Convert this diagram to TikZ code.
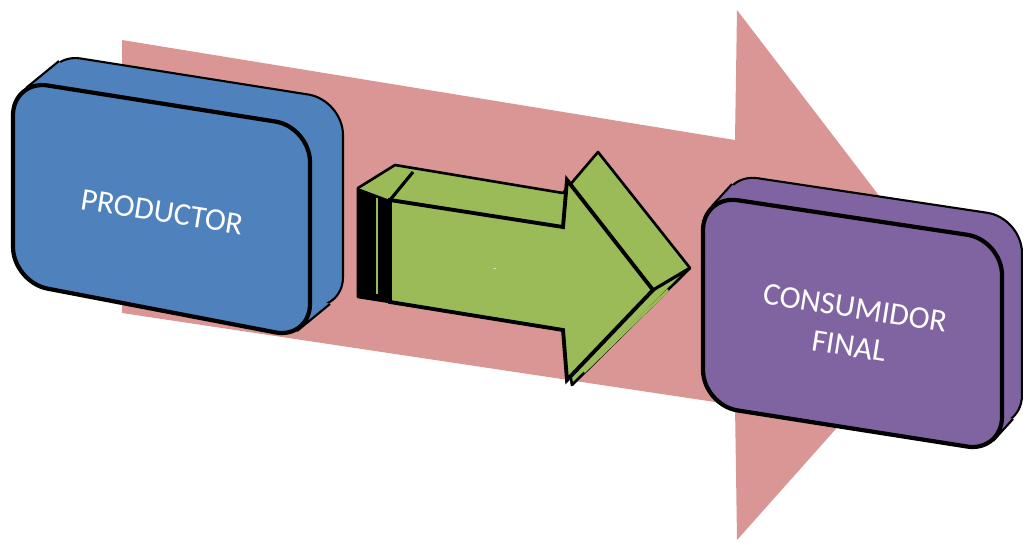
\documentclass[tikz,border=0pt]{standalone}
\usepackage{fontspec}
\setmainfont{Carlito}
\usepackage{xcolor}
\usepackage{tikz}
\usetikzlibrary{positioning}

\definecolor{flowpink}{HTML}{D99694}
\definecolor{prodblue}{HTML}{4F81BD}
\definecolor{movegreen}{HTML}{9BBB59}
\definecolor{conspurple}{HTML}{8064A2}

\begin{document}
\begin{tikzpicture}[x=0.02cm, y=-0.02cm,
  back/.style={draw=black, line width=1.2pt, rounded corners=20pt, line join=round},
  face/.style={draw=black, line width=2.4pt, rounded corners=20pt, line join=round},
  edge/.style={draw=black, line width=1.2pt},
  arrowface/.style={draw=black, line width=2.2pt, line join=miter},
  boxlabel/.style={text=white, font=\fontsize{18}{22}\selectfont, align=center, rotate=-9}]

  \useasboundingbox (0,0) rectangle (1023,542);

  % big flow arrow in the background
  \fill[flowpink] (122,40) -- (735,140) -- (737,10) -- (955,295) -- (737,540) -- (735,405) -- (122,313) -- cycle;

  % productor box
  \begin{scope}[shift={(33,-27)}]
    \fill[prodblue, back] (13,80) -- (310,127) -- (310,339) -- (13,282) -- cycle;
  \end{scope}
  \fill[prodblue] (26,88) -- (59,61) -- (100,110) -- (60,140) -- cycle;
  \fill[prodblue] (297,331) -- (330,304) -- (295,290) -- cycle;
  \draw[edge] (26,88) -- (59,61);
  \draw[edge] (297,331) -- (330,304);
  \fill[prodblue, face] (13,80) -- (310,127) -- (310,339) -- (13,282) -- cycle;
  \node[boxlabel] (prod) at (162,212) {PRODUCTOR};

  % green block arrow
  \fill[movegreen, draw=black, line width=1.5pt, line join=round] (358,188) -- (395,165) -- (563,193) -- (598,152) -- (690,268) -- (572,385) -- (563,330) -- (390,302) -- (358,297) -- cycle;
  \fill[black] (358,188) -- (390,200) -- (390,302) -- (358,297) -- cycle;
  \draw[movegreen, line width=1.5pt] (377,198) -- (377,294);
  \draw[black, line width=1.8pt] (390,200) -- (413,172);
  \draw[black, line width=1.8pt] (653,290) -- (690,268);
  \draw[movegreen, line width=1.5pt] (668,290) -- (584,372);
  \fill[movegreen, arrowface] (390,200) -- (563,227) -- (567,180) -- (653,290) -- (567,380) -- (563,330) -- (390,302) -- cycle;
  \node[text=white, font=\tiny] (flow) at (495,270) {-};

  % consumidor final box
  \begin{scope}[shift={(20,-22)}]
    \fill[conspurple, back] (703,195) -- (1002,240) -- (1002,452) -- (703,405) -- cycle;
  \end{scope}
  \fill[conspurple] (712,206) -- (732,184) -- (780,230) -- (750,250) -- cycle;
  \fill[conspurple] (993,441) -- (1013,419) -- (985,410) -- cycle;
  \draw[edge] (712,206) -- (732,184);
  \draw[edge] (993,441) -- (1013,419);
  \fill[conspurple, face] (703,195) -- (1002,240) -- (1002,452) -- (703,405) -- cycle;
  \node[boxlabel] (cons) at (852,327) {CONSUMIDOR\\FINAL};
\end{tikzpicture}
\end{document}
